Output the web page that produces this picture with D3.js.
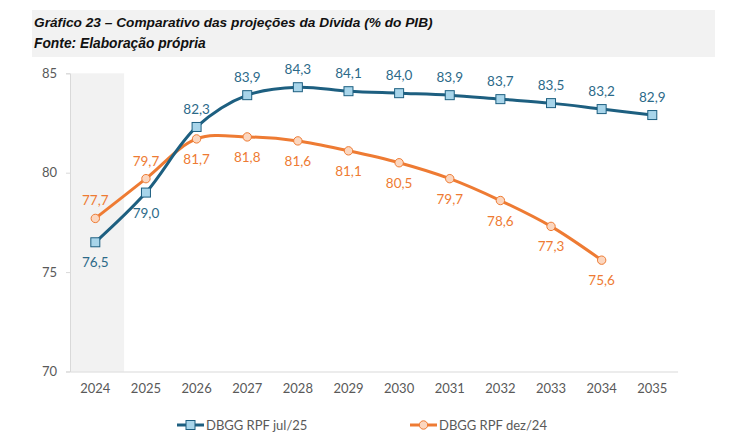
<!DOCTYPE html>
<html><head><meta charset="utf-8">
<script src="https://cdn.jsdelivr.net/npm/d3@7"></script>
<style>
body{margin:0;background:#fff;}
svg{display:block;}
</style></head>
<body>
<svg id="c" width="733" height="442"></svg>
<script>
const years = ["2024","2025","2026","2027","2028","2029","2030","2031","2032","2033","2034","2035"];
const jul25 = [76.5,79.0,82.3,83.9,84.3,84.1,84.0,83.9,83.7,83.5,83.2,82.9];
const dez24 = [77.7,79.7,81.7,81.8,81.6,81.1,80.5,79.7,78.6,77.3,75.6];
const yTicks = [70,75,80,85];
const title = "Gráfico 23 – Comparativo das projeções da Dívida (% do PIB)";
const subtitle = "Fonte: Elaboração própria";
const seriesNames = ["DBGG RPF jul/25","DBGG RPF dez/24"];

const svg = d3.select("#c");
const blue = "#1d5f80", blueFill = "#a8d5ea", blueText = "#2c6a89";
const orange = "#ee7b33", orangeFill = "#fbd6bf", orangeText = "#ee7b33";
const fnt = "Lato, 'Open Sans', sans-serif";

// title band
svg.append("rect").attr("x",32).attr("y",10).attr("width",683).attr("height",47).attr("fill","#f2f2f2");
svg.append("text").attr("x",34).attr("y",27).text(title)
  .attr("font-family","'Liberation Sans', Arial, sans-serif").attr("font-weight","bold").attr("font-style","italic").attr("font-size",13.7).attr("fill","#111");
svg.append("text").attr("x",34).attr("y",48).text(subtitle)
  .attr("font-family","'Liberation Sans', Arial, sans-serif").attr("font-weight","bold").attr("font-style","italic").attr("font-size",13.8).attr("fill","#111");

const x = d3.scaleBand().domain(years).range([70,677.6]);
const y = d3.scaleLinear().domain([70,85]).range([371.5,73.3]);
const cx = d => x(d) + x.bandwidth()/2;

// shaded 2024
svg.append("rect").attr("x",x("2024")).attr("y",y(85)).attr("width",x.bandwidth()+3.5).attr("height",y(70)-y(85)).attr("fill","#f2f2f2");

// axes
const yAxis = d3.axisLeft(y).tickValues(yTicks).tickSize(4).tickPadding(9).tickFormat(d3.format("d"));
const gy = svg.append("g").attr("transform","translate(70,0)").call(yAxis);
gy.select(".domain").attr("stroke","#d9d9d9");
gy.selectAll(".tick line").attr("stroke","#d9d9d9");
gy.selectAll("text").attr("font-family",fnt).attr("font-size",13).attr("fill","#595959");

const xAxis = d3.axisBottom(x).tickSize(0).tickPadding(12);
const gx = svg.append("g").attr("transform",`translate(0,${y(70)})`).call(xAxis);
gx.select(".domain").attr("stroke","#d9d9d9");
gx.selectAll("text").attr("font-family",fnt).attr("font-size",13).attr("fill","#595959");

const line = d3.line().curve(d3.curveCatmullRom.alpha(0.5));
const ptsB = jul25.map((v,i)=>[cx(years[i]),y(v)]);
const ptsO = dez24.map((v,i)=>[cx(years[i]),y(v)]);

svg.append("path").attr("d",line(ptsO)).attr("fill","none").attr("stroke",orange).attr("stroke-width",3);
svg.append("path").attr("d",line(ptsB)).attr("fill","none").attr("stroke",blue).attr("stroke-width",3);

svg.selectAll("circle.o").data(ptsO).enter().append("circle")
  .attr("cx",d=>d[0]).attr("cy",d=>d[1]).attr("r",4.2).attr("fill",orangeFill).attr("stroke",orange).attr("stroke-width",1);
svg.selectAll("rect.b").data(ptsB).enter().append("rect")
  .attr("x",d=>d[0]-4.5).attr("y",d=>d[1]-4.5).attr("width",9).attr("height",9).attr("fill",blueFill).attr("stroke",blue).attr("stroke-width",1);

const fmt = v => v.toFixed(1).replace(".",",");
// labels
jul25.forEach((v,i)=>{
  const below = i<2;
  svg.append("text").attr("x",cx(years[i])).attr("y",y(v)+(below?25:-13)).attr("text-anchor","middle")
    .attr("font-family",fnt).attr("font-size",13.5).attr("fill",blueText).text(fmt(v));
});
dez24.forEach((v,i)=>{
  const above = i<2;
  svg.append("text").attr("x",cx(years[i])).attr("y",y(v)+(above?-13:25)).attr("text-anchor","middle")
    .attr("font-family",fnt).attr("font-size",13.5).attr("fill",orangeText).text(fmt(v));
});

// legend
const lg = [[177,blue,blueFill,"sq",seriesNames[0]],[410,orange,orangeFill,"ci",seriesNames[1]]];
lg.forEach(([lx,c,f,m,t])=>{
  const ly = 425;
  svg.append("line").attr("x1",lx).attr("x2",lx+27).attr("y1",ly).attr("y2",ly).attr("stroke",c).attr("stroke-width",3);
  if(m==="sq") svg.append("rect").attr("x",lx+9).attr("y",ly-4.5).attr("width",9).attr("height",9).attr("fill",f).attr("stroke",c);
  else svg.append("circle").attr("cx",lx+13.5).attr("cy",ly).attr("r",4.2).attr("fill",f).attr("stroke",c);
  svg.append("text").attr("x",lx+29).attr("y",ly+5).attr("font-family",fnt).attr("font-size",13).attr("fill","#595959").text(t);
});
</script>
</body></html>
